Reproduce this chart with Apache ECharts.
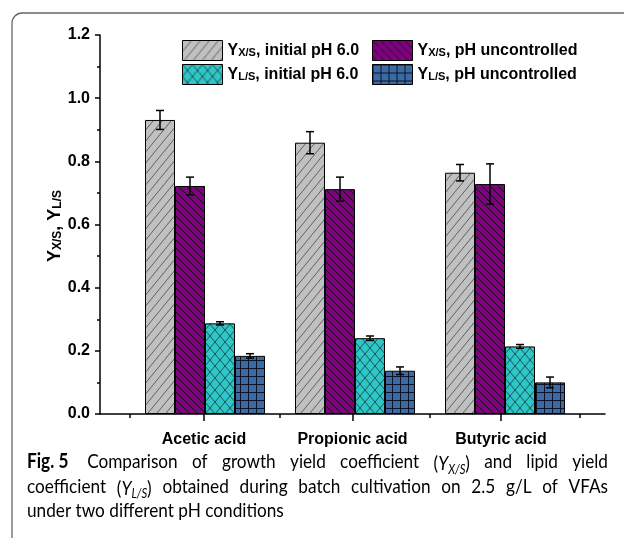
<!DOCTYPE html>
<html>
<head>
<meta charset="utf-8">
<script src="https://cdn.jsdelivr.net/npm/echarts@6/dist/echarts.min.js"></script>
<style>
  html, body { margin: 0; padding: 0; background: #fff; }
  #chart { width: 624px; height: 538px; }
</style>
</head>
<body>
<div id="chart"></div>
<script>
// Growth / lipid yield coefficients on each VFA (mean and error)
const categories = ['Acetic acid', 'Propionic acid', 'Butyric acid'];
const seriesNames = ['YX/S, initial pH 6.0', 'YX/S, pH uncontrolled', 'YL/S, initial pH 6.0', 'YL/S, pH uncontrolled'];

const yxsInitial = [0.931, 0.859, 0.764];
const yxsInitialErr = [0.030, 0.035, 0.026];
const yxsUncontrolled = [0.722, 0.712, 0.728];
const yxsUncontrolledErr = [0.028, 0.038, 0.064];
const ylsInitial = [0.287, 0.240, 0.214];
const ylsInitialErr = [0.005, 0.007, 0.006];
const ylsUncontrolled = [0.184, 0.137, 0.100];
const ylsUncontrolledErr = [0.007, 0.012, 0.017];

const yMin = 0, yMax = 1.2, yStep = 0.2;

// Caption, one array of words per line (rich-text tokens)
const captionLines = [
  ['{b|Fig. 5} ', '{n|Comparison}', '{n|of}', '{n|growth}', '{n|yield}', '{n|coefficient}', '{n|(}{i|Y}{s|X/S}{n|)}', '{n|and}', '{n|lipid}', '{n|yield}'],
  ['{n|coefficient}', '{n|(}{i|Y}{s|L/S}{n|)}', '{n|obtained}', '{n|during}', '{n|batch}', '{n|cultivation}', '{n|on}', '{n|2.5}', '{n|g/L}', '{n|of}', '{n|VFAs}'],
  ['{n|under two different pH conditions}']
];

const values = [yxsInitial, yxsUncontrolled, ylsInitial, ylsUncontrolled];
const errors = [yxsInitialErr, yxsUncontrolledErr, ylsInitialErr, ylsUncontrolledErr];

// Hatched fills drawn on small canvas tiles
function hatch(bg, w, h, stroke, lw, draw) {
  const c = document.createElement('canvas');
  c.width = w; c.height = h;
  const g = c.getContext('2d');
  g.fillStyle = bg; g.fillRect(0, 0, w, h);
  g.strokeStyle = stroke; g.lineWidth = lw;
  g.beginPath(); draw(g, w, h); g.stroke();
  return { image: c, repeat: 'repeat' };
}
const fwd = (g, w, h) => { for (const dx of [-w, 0, w]) { g.moveTo(dx, h); g.lineTo(dx + w, 0); } };
const back = (g, w, h) => { for (const dx of [-w, 0, w]) { g.moveTo(dx, 0); g.lineTo(dx + w, h); } };
const cross = (g, w, h) => { fwd(g, w, h); back(g, w, h); };
const gridLines = (g, w, h) => { g.moveTo(0.5, 0); g.lineTo(0.5, h); g.moveTo(0, 0.5); g.lineTo(w, 0.5); };

const fills = [
  hatch('#c0c0c0', 9, 11, '#555', 0.9, fwd),
  hatch('#800080', 8, 8, '#111', 0.9, back),
  hatch('#2fc6c8', 10, 12, '#1a3a3a', 0.8, cross),
  hatch('#3b6ba4', 8, 8, '#0a0a1a', 0.9, gridLines)
];

const font = '"Liberation Sans", Arial, sans-serif';
const capFont = 'Lato, "Open Sans", sans-serif';
const capColor = '#231f20';

const subRich = {
  y: { fontFamily: font, fontSize: 16, fontWeight: 'bold', color: '#000' },
  s: { fontFamily: font, fontSize: 11, fontWeight: 'bold', color: '#000', verticalAlign: 'bottom' },
  t: { fontFamily: font, fontSize: 16, fontWeight: 'bold', color: '#000' }
};
function legendLabel(name) {
  return '{y|' + name.slice(0, 1) + '}{s|' + name.slice(1, 4) + '}{t|' + name.slice(4) + '}';
}

const barSeries = seriesNames.map((name, k) => ({
  name: name,
  type: 'bar',
  xAxisIndex: 1,
  yAxisIndex: 1,
  barWidth: 30,
  barGap: '0%',
  data: values[k],
  itemStyle: { color: fills[k], borderColor: '#000', borderWidth: 1 },
  emphasis: { disabled: true }
}));

const errData = [];
values.forEach((arr, k) => arr.forEach((v, i) => errData.push([i, k, v, errors[k][i]])));

const errSeries = {
  type: 'custom',
  name: 'error',
  xAxisIndex: 1,
  yAxisIndex: 1,
  z: 10,
  silent: true,
  encode: { x: 0, y: 2 },
  data: errData,
  renderItem(params, api) {
    const cat = api.value(0), k = api.value(1), v = api.value(2), e = api.value(3);
    const band = api.size([1, 0])[0];
    const off = (k - 1.5) * band * 0.2;
    const hi = api.coord([cat, v + e]);
    const lo = api.coord([cat, v - e]);
    const x = hi[0] + off;
    const cap = 4;
    const st = { stroke: '#000', lineWidth: 1.5 };
    return {
      type: 'group',
      children: [
        { type: 'line', shape: { x1: x, y1: hi[1], x2: x, y2: lo[1] }, style: st },
        { type: 'line', shape: { x1: x - cap, y1: hi[1], x2: x + cap, y2: hi[1] }, style: st },
        { type: 'line', shape: { x1: x - cap, y1: lo[1], x2: x + cap, y2: lo[1] }, style: st }
      ]
    };
  }
};

const axisLineStyle = { color: '#000', width: 1.5 };
const legendBase = {
  orient: 'vertical',
  top: 40,
  padding: 0,
  itemWidth: 40,
  itemHeight: 20,
  itemGap: 3,
  icon: 'rect',
  selectedMode: false,
  formatter: legendLabel,
  textStyle: { rich: subRich },
  itemStyle: { borderColor: '#000', borderWidth: 1 }
};

// Caption: justified lines built from measured words
const capSize = 20, capScaleX = 0.86, capLeft = 27, capWidth = 581, capTop = 452, capLineGap = 24.5;
const capRich = {
  b: { fontFamily: capFont, fontSize: capSize, fontWeight: 'bold', color: capColor },
  n: { fontFamily: capFont, fontSize: capSize, color: capColor },
  i: { fontFamily: capFont, fontSize: capSize, fontStyle: 'italic', color: capColor },
  s: { fontFamily: capFont, fontSize: 13, fontStyle: 'italic', color: capColor, padding: [11, 0, 0, 0] }
};
const measureCtx = document.createElement('canvas').getContext('2d');
function tokenWidth(tok) {
  let w = 0;
  tok.replace(/\{(\w)\|([^}]*)\}|([^{]+)/g, (m, key, txt, plain) => {
    const st = capRich[key || 'n'];
    measureCtx.font = (st.fontStyle || 'normal') + ' ' + (st.fontWeight || 'normal') + ' ' + st.fontSize + 'px ' + st.fontFamily;
    w += measureCtx.measureText(key ? txt : plain).width;
    return m;
  });
  return w * capScaleX;
}
const captionGraphics = [];
captionLines.forEach((words, li) => {
  const widths = words.map(tokenWidth);
  const total = widths.reduce((a, b) => a + b, 0);
  const justify = li < captionLines.length - 1 && words.length > 1;
  const gap = justify ? (capWidth - total) / (words.length - 1) : 0;
  let x = capLeft;
  words.forEach((tok, wi) => {
    captionGraphics.push({
      type: 'text', silent: true,
      x: x, y: capTop + li * capLineGap, scaleX: capScaleX,
      style: { text: tok.trim(), rich: capRich, x: 0, y: 0, align: 'left', verticalAlign: 'top' }
    });
    x += widths[wi] + gap;
  });
});

const option = {
  animation: false,
  textStyle: { fontFamily: font },
  grid: [
    { left: 100, top: 35, width: 505, height: 379 },
    { left: 130, top: 35, width: 450, height: 379 }
  ],
  legend: [
    Object.assign({}, legendBase, { left: 182, data: [seriesNames[0], seriesNames[2]] }),
    Object.assign({}, legendBase, { left: 372, data: [seriesNames[1], seriesNames[3]] })
  ],
  xAxis: [
    {
      gridIndex: 0, type: 'value', min: 0.3, max: 3.7,
      splitLine: { show: false },
      axisLine: { show: true, lineStyle: axisLineStyle },
      axisTick: { show: true, customValues: [1, 2, 3], length: 7, lineStyle: axisLineStyle },
      axisLabel: {
        customValues: [1, 2, 3],
        formatter: v => categories[Math.round(v) - 1],
        margin: 18, fontSize: 16, fontWeight: 'bold', color: '#000', fontFamily: font
      }
    },
    {
      gridIndex: 1, type: 'category', data: categories,
      axisLine: { show: false },
      axisTick: { show: true, length: 4, lineStyle: axisLineStyle },
      axisLabel: { show: false },
      splitLine: { show: false }
    }
  ],
  yAxis: [
    {
      gridIndex: 0, type: 'value', min: yMin, max: yMax, interval: yStep,
      splitLine: { show: false },
      axisLine: { show: true, lineStyle: axisLineStyle },
      axisTick: { show: true, length: 5, lineStyle: axisLineStyle },
      minorTick: { show: true, splitNumber: 2, length: 3, lineStyle: { color: '#000', width: 1.5 } },
      axisLabel: {
        formatter: v => v.toFixed(1),
        margin: 10, fontSize: 16, fontWeight: 'bold', color: '#000', fontFamily: font
      }
    },
    { gridIndex: 1, type: 'value', min: yMin, max: yMax, show: false }
  ],
  series: barSeries.concat([errSeries]),
  graphic: [
    // rounded frame around figure and caption
    { type: 'line', silent: true, shape: { x1: 12, y1: 23, x2: 12, y2: 538 }, style: { stroke: '#666', lineWidth: 1.3 } },
    { type: 'line', silent: true, shape: { x1: 22, y1: 13, x2: 624, y2: 13 }, style: { stroke: '#666', lineWidth: 1.3 } },
    { type: 'arc', silent: true, shape: { cx: 22, cy: 23, r: 10, startAngle: Math.PI, endAngle: Math.PI * 1.5 }, style: { stroke: '#666', lineWidth: 1.3, fill: null } },
    // value-axis title
    {
      type: 'text', silent: true, x: 55, y: 226, rotation: Math.PI / 2,
      style: {
        text: '{y|Y}{s|X/S}{y|, Y}{s|L/S}',
        align: 'center', verticalAlign: 'middle',
        rich: {
          y: { fontFamily: font, fontSize: 18, fontWeight: 'bold', color: '#000' },
          s: { fontFamily: font, fontSize: 12, fontWeight: 'bold', color: '#000', verticalAlign: 'bottom' }
        }
      }
    }
  ].concat(captionGraphics)
};

const chart = echarts.init(document.getElementById('chart'), null, { renderer: 'canvas' });
chart.setOption(option);
</script>
</body>
</html>
